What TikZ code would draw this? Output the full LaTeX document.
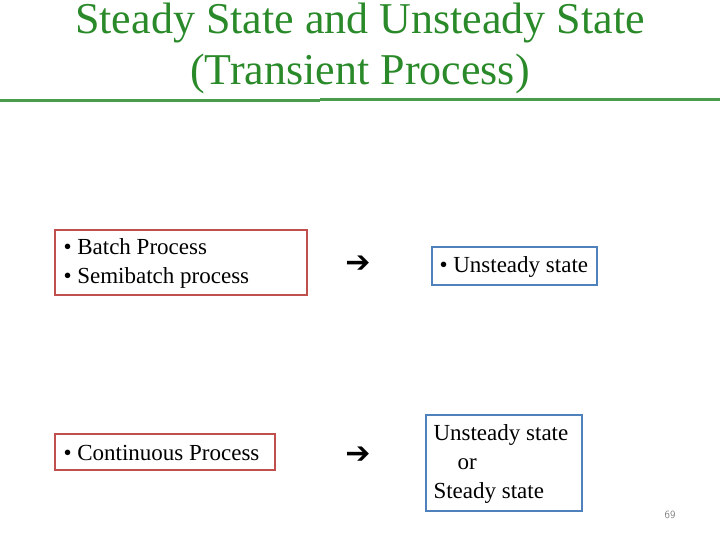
\documentclass[tikz,border=0pt]{standalone}
\usepackage{fontspec}
\setmainfont{Liberation Serif}
\newfontfamily\symfont{DejaVu Sans}
\definecolor{boxred}{HTML}{C0504D}
\definecolor{boxblue}{HTML}{4F81BD}
\definecolor{titlegreen}{HTML}{2A8A2A}
\tikzset{
  redbox/.style={draw=boxred, line width=1.8pt},
  bluebox/.style={draw=boxblue, line width=1.8pt},
  txt/.style={font=\fontsize{23}{29}\selectfont, align=left, anchor=west},
  arr/.style={font=\symfont\bfseries\fontsize{30}{30}\selectfont}
}
\begin{document}
\begin{tikzpicture}[x=1pt,y=-1pt]
  \useasboundingbox (0,0) rectangle (720,540);
  % title
  \node (title) at (360,48) [font=\fontsize{44}{51}\selectfont, text=titlegreen, align=center]
    {Steady State and Unsteady State\\(Transient Process)};
  \draw[titlegreen!85, line width=3pt] (0,101) -- (320,101);
  \draw[titlegreen!85, line width=3pt] (320,99.5) -- (720,99.5);
  % boxes
  \draw[redbox] (55,230) rectangle (307,295);
  \node (batch) [txt] at (60,263) {• Batch Process\\• Semibatch process};
  \draw[bluebox] (432,247) rectangle (597,285);
  \node (unst) [txt] at (436,267) {• Unsteady state};
  \draw[redbox] (55,434) rectangle (275,470);
  \node (cont) [txt] at (60,453) {• Continuous Process};
  \draw[bluebox] (426,415) rectangle (582,511);
  \node (both) [txt] at (430,464) {Unsteady state\\\hspace{24pt}or\\Steady state};
  % arrows
  \node (a1) [arr] at (358,264) {➔};
  \node (a2) [arr] at (358,455) {➔};
  \node (pg) at (670,515) [font=\fontsize{11}{11}\selectfont\sffamily, text=gray] {69};
\end{tikzpicture}
\end{document}
